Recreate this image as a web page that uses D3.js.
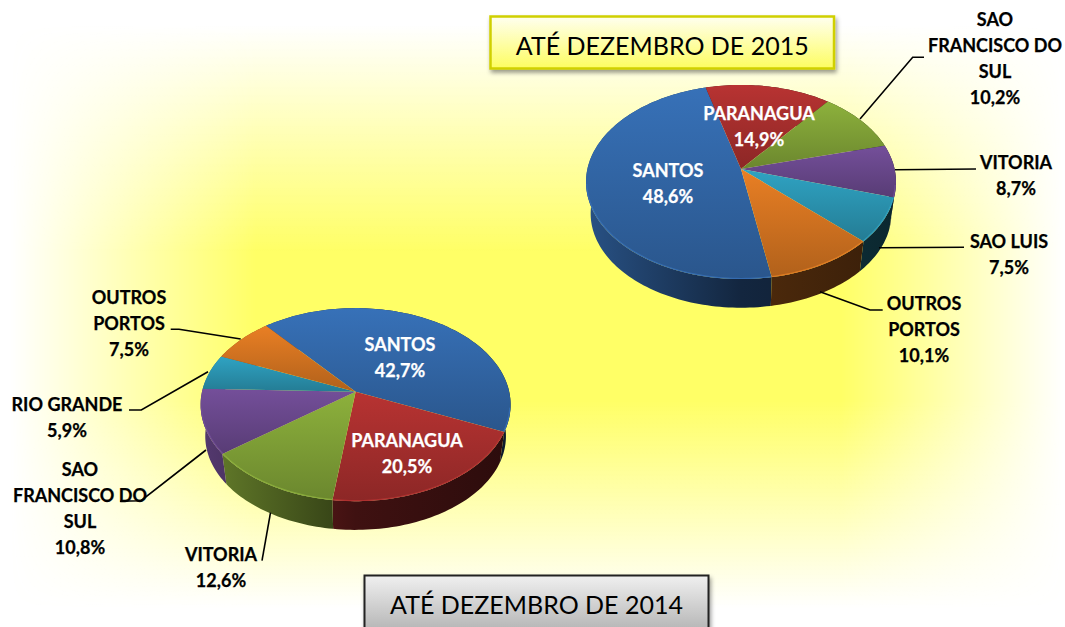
<!DOCTYPE html>
<html>
<head>
<meta charset="utf-8">
<script src="https://cdnjs.cloudflare.com/ajax/libs/d3/7.8.5/d3.min.js"></script>
<style>
  html, body { margin: 0; padding: 0; background: #fff; }
  svg { display: block; }
  text { font-family: Lato, "Open Sans", sans-serif; }
</style>
</head>
<body>
<svg id="chart" width="1065" height="627"></svg>
<script>
// values
var ports2015 = ["SANTOS", "PARANAGUA", "SAO FRANCISCO DO SUL", "VITORIA", "SAO LUIS", "OUTROS PORTOS"];
var share2015 = [48.6, 14.9, 10.2, 8.7, 7.5, 10.1];
var ports2014 = ["SANTOS", "PARANAGUA", "VITORIA", "SAO FRANCISCO DO SUL", "RIO GRANDE", "OUTROS PORTOS"];
var share2014 = [42.7, 20.5, 12.6, 10.8, 5.9, 7.5];
var title2015 = "ATÉ DEZEMBRO DE 2015";
var title2014 = "ATÉ DEZEMBRO DE 2014";

var colors2015 = ["#3771b8", "#b83332", "#8db13c", "#744f9a", "#2fa3c3", "#e97f24"];
var colors2014 = ["#3771b8", "#b83332", "#8db13c", "#744f9a", "#2fa3c3", "#e97f24"];

var svg = d3.select("#chart");
var defs = svg.append("defs");

// background glow: vertical fade times horizontal fade, gives the soft rounded box
var fadeY = defs.append("linearGradient").attr("id", "fadeY")
  .attr("x1", 0).attr("x2", 0).attr("y1", 0).attr("y2", 1);
[[0.04, 0], [0.4, 1], [0.64, 1], [0.97, 0]].forEach(function (s) {
  fadeY.append("stop").attr("offset", s[0]).attr("stop-color", "#ffff66").attr("stop-opacity", s[1]);
});
var fadeX = defs.append("linearGradient").attr("id", "fadeX");
[[0.01, 0], [0.24, 1], [0.79, 1], [1, 0]].forEach(function (s) {
  fadeX.append("stop").attr("offset", s[0]).attr("stop-color", "#fff").attr("stop-opacity", s[1]);
});
defs.append("mask").attr("id", "fadeMask").attr("maskUnits", "userSpaceOnUse")
  .attr("x", 0).attr("y", 0).attr("width", 1065).attr("height", 627)
  .append("rect").attr("width", 1065).attr("height", 627).attr("fill", "url(#fadeX)");
svg.append("rect").attr("width", 1065).attr("height", 627).attr("fill", "#fff");
svg.append("rect").attr("width", 1065).attr("height", 627)
  .attr("fill", "url(#fadeY)").attr("mask", "url(#fadeMask)");

var shadow = defs.append("filter").attr("id", "shadow")
  .attr("x", "-5%").attr("y", "-20%").attr("width", "110%").attr("height", "140%");
shadow.append("feDropShadow").attr("dx", 1.5).attr("dy", 3).attr("stdDeviation", 2)
  .attr("flood-color", "#000").attr("flood-opacity", 0.4);

function scaleColor(c, f) {
  var r = d3.rgb(c);
  return d3.rgb(r.r * f, r.g * f, r.b * f).formatHex();
}

// tilted disc: k gives the perspective, the apex sits above the ellipse middle
function pie3d(id, names, values, colors, opts) {
  var k = 0.134;
  var angles = d3.pie().sort(null)
    .startAngle(opts.start * Math.PI / 180)
    .endAngle((opts.start + 360) * Math.PI / 180)(values);

  function project(a, scale, drop) {
    var u = Math.sin(a), v = -Math.cos(a);
    var w = 1 - k * v;
    return [opts.cx + scale * opts.sx * u / w, opts.cy + scale * opts.sy * v / w + drop];
  }
  function edge(d, scale, drop) {
    var pts = [], n = Math.max(4, Math.ceil((d.endAngle - d.startAngle) * 40));
    for (var i = 0; i <= n; i++) {
      pts.push(project(d.startAngle + (d.endAngle - d.startAngle) * i / n, scale, drop));
    }
    return pts;
  }
  // only the near half of the rim catches the light
  function frontEdge(d) {
    var pts = [], n = Math.max(4, Math.ceil((d.endAngle - d.startAngle) * 40));
    for (var i = 0; i <= n; i++) {
      var a = d.startAngle + (d.endAngle - d.startAngle) * i / n;
      if (Math.cos(a) < -0.15) pts.push(project(a, 0.995, 0));
    }
    return pts;
  }

  var x0 = opts.cx - opts.sx, x1 = opts.cx + opts.sx;
  colors.forEach(function (c, i) {
    var side = defs.append("linearGradient").attr("id", id + "side" + i)
      .attr("gradientUnits", "userSpaceOnUse")
      .attr("x1", x0).attr("x2", x1).attr("y1", 0).attr("y2", 0);
    side.append("stop").attr("offset", "0%").attr("stop-color", scaleColor(c, 0.72));
    side.append("stop").attr("offset", "50%").attr("stop-color", scaleColor(c, 0.34));
    side.append("stop").attr("offset", "100%").attr("stop-color", scaleColor(c, 0.24));
    var top = defs.append("linearGradient").attr("id", id + "top" + i)
      .attr("x1", 0).attr("x2", 0).attr("y1", 0).attr("y2", 1);
    top.append("stop").attr("offset", "0%").attr("stop-color", c);
    top.append("stop").attr("offset", "100%").attr("stop-color", scaleColor(c, 0.76));
  });

  var line = d3.line();
  var g = svg.append("g");
  // sides first, the top faces cover the back half
  g.selectAll("path.side").data(angles).enter().append("path")
    .attr("class", "side")
    .attr("fill", function (d, i) { return "url(#" + id + "side" + i + ")"; })
    .attr("d", function (d) {
      return line(edge(d, 1, 0).concat(edge(d, opts.shrink, opts.drop).reverse())) + "Z";
    });
  g.selectAll("path.face").data(angles).enter().append("path")
    .attr("class", "face")
    .attr("fill", function (d, i) { return "url(#" + id + "top" + i + ")"; })
    .attr("d", function (d) {
      return line([[opts.cx, opts.cy]].concat(edge(d, 1, 0))) + "Z";
    });
  g.selectAll("path.rim").data(angles).enter().append("path")
    .attr("class", "rim")
    .attr("fill", "none")
    .attr("stroke", function (d, i) { return colors[i]; })
    .attr("stroke-opacity", 0.8)
    .attr("stroke-width", 1.2)
    .attr("d", function (d) {
      var pts = frontEdge(d);
      return pts.length > 1 ? line(pts) : null;
    });
}

function multiline(x, y, lines, fill) {
  var t = svg.append("text").attr("text-anchor", "middle")
    .attr("font-size", 18).attr("font-weight", 700).attr("fill", fill)
    .attr("stroke", fill).attr("stroke-width", 0.25);
  lines.forEach(function (s, i) {
    t.append("tspan").attr("x", x).attr("y", y + i * 26).text(s);
  });
}

function pct(v) { return d3.format(".1f")(v).replace(".", ",") + "%"; }

pie3d("a", ports2015, share2015, colors2015, { cx: 741, cy: 169, sx: 153.6, sy: 95.3, start: 170, shrink: 0.97, drop: 32 });
pie3d("b", ports2014, share2014, colors2014, { cx: 355.6, cy: 391.7, sx: 153.6, sy: 94.8, start: -40, shrink: 0.97, drop: 32 });

// labels
multiline(668, 176.5, [ports2015[0], pct(share2015[0])], "#fff");
multiline(759, 119.5, [ports2015[1], pct(share2015[1])], "#fff");
multiline(995, 25.5, ["SAO", "FRANCISCO DO", "SUL", pct(share2015[2])], "#000");
multiline(1016, 168.5, [ports2015[3], pct(share2015[3])], "#000");
multiline(1009, 247.5, [ports2015[4], pct(share2015[4])], "#000");
multiline(924, 309.5, ["OUTROS", "PORTOS", pct(share2015[5])], "#000");

multiline(400, 350.5, [ports2014[0], pct(share2014[0])], "#fff");
multiline(407, 446.5, [ports2014[1], pct(share2014[1])], "#fff");
multiline(221, 560.5, [ports2014[2], pct(share2014[2])], "#000");
multiline(80, 475.5, ["SAO", "FRANCISCO DO", "SUL", pct(share2014[3])], "#000");
multiline(67, 410.5, [ports2014[4], pct(share2014[4])], "#000");
multiline(129, 303.5, ["OUTROS", "PORTOS", pct(share2014[5])], "#000");

// leader lines
var leaders = [
  [[860, 119], [912.7, 57.3], [924, 57.3]],
  [[895, 169.7], [976, 169]],
  [[879, 247.7], [964, 247.3]],
  [[820, 291.7], [870, 310], [882.7, 310]],
  [[240.7, 339], [179, 329.3], [170.7, 329.3]],
  [[208, 371.7], [141.3, 410], [129, 410]],
  [[206, 450], [141, 500.7], [120, 501.3]],
  [[270.5, 512.7], [262, 560.7]]
];
svg.selectAll("path.leader").data(leaders).enter().append("path")
  .attr("class", "leader")
  .attr("fill", "none").attr("stroke", "#000").attr("stroke-width", 1.6)
  .attr("d", d3.line());

// title boxes
function titleBox(id, x, y, w, h, stops, border, borderW, text, textY) {
  var grad = defs.append("linearGradient").attr("id", id)
    .attr("x1", 0).attr("x2", 0).attr("y1", 0).attr("y2", 1);
  grad.append("stop").attr("offset", "0%").attr("stop-color", stops[0]);
  grad.append("stop").attr("offset", "100%").attr("stop-color", stops[1]);
  svg.append("rect").attr("x", x).attr("y", y).attr("width", w).attr("height", h)
    .attr("fill", "url(#" + id + ")").attr("stroke", border).attr("stroke-width", borderW)
    .attr("filter", "url(#shadow)");
  svg.append("text").attr("x", x + w / 2).attr("y", textY).attr("text-anchor", "middle")
    .attr("font-size", 25).attr("fill", "#000").text(text);
}
titleBox("boxA", 490.5, 16.5, 343.5, 52, ["#fffff0", "#fdfd60"], "#d0d000", 2.5, title2015, 55);
titleBox("boxB", 364.5, 575.5, 344, 60, ["#f0f0f0", "#b0b0b0"], "#222", 2, title2014, 613.5);
</script>
</body>
</html>
